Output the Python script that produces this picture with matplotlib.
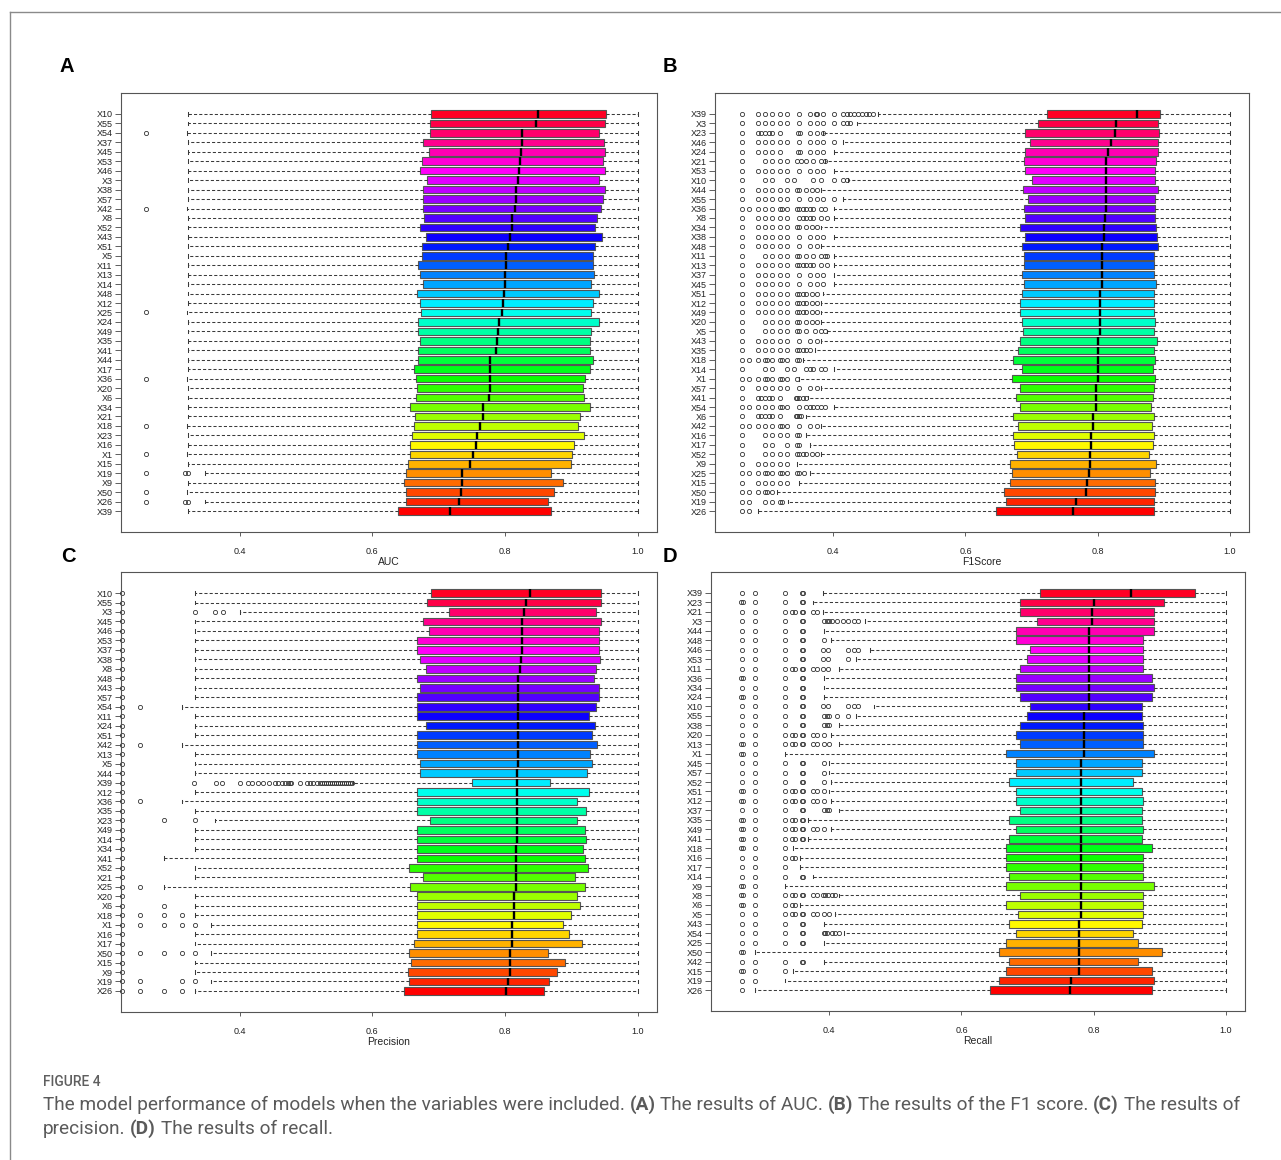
import colorsys
import matplotlib
matplotlib.use("Agg")
import matplotlib.pyplot as plt
from matplotlib.lines import Line2D

plt.rcParams['font.family'] = ['Liberation Sans', 'DejaVu Sans']

W, H = 1281, 1160
WHIS_HI = 1.0   # upper whisker reaches 1.0 in every panel

# ---------------- A : AUC ----------------
names_A = ["X10","X55","X54","X37","X45","X53","X46","X3","X38","X57","X42","X8","X52","X43","X51","X5","X11","X13","X14","X48","X12","X25",
           "X24","X49","X35","X41","X44","X17","X36","X20","X6","X34","X21","X18","X23","X16","X1","X15","X19","X9","X50","X26","X39"]
q1_A = [0.688,0.687,0.687,0.676,0.686,0.674,0.672,0.683,0.676,0.676,0.676,0.678,0.672,0.681,0.675,0.674,0.669,0.671,0.676,0.667,0.671,0.673,
        0.668,0.668,0.671,0.668,0.669,0.662,0.666,0.667,0.665,0.657,0.664,0.662,0.659,0.657,0.657,0.654,0.651,0.648,0.651,0.650,0.639]
med_A = [0.849,0.846,0.826,0.825,0.824,0.822,0.821,0.819,0.817,0.817,0.815,0.811,0.811,0.808,0.804,0.801,0.801,0.800,0.800,0.799,0.797,0.796,
         0.791,0.790,0.788,0.787,0.778,0.777,0.777,0.777,0.775,0.767,0.767,0.762,0.757,0.756,0.751,0.747,0.735,0.735,0.734,0.731,0.717]
q3_A = [0.952,0.951,0.942,0.949,0.951,0.947,0.950,0.942,0.950,0.947,0.944,0.938,0.936,0.946,0.935,0.933,0.933,0.934,0.930,0.942,0.932,0.930,
        0.942,0.929,0.928,0.928,0.933,0.928,0.920,0.918,0.919,0.928,0.913,0.910,0.919,0.904,0.901,0.899,0.869,0.888,0.873,0.865,0.869]
lo_A = [0.322,0.322,0.320,0.322,0.322,0.322,0.322,0.322,0.322,0.322,0.320,0.322,0.322,0.322,0.322,0.322,0.322,0.322,0.322,0.322,0.322,0.320,
        0.322,0.322,0.322,0.322,0.322,0.322,0.320,0.322,0.322,0.322,0.322,0.320,0.322,0.322,0.320,0.322,0.347,0.322,0.320,0.347,0.322]
fl_A = [[],[],[0.258],[],[],[],[],[],[],[],[0.258],[],[],[],[],[],[],[],[],[],[],[0.258],
        [],[],[],[],[],[],[0.258],[],[],[],[],[0.258],[],[],[0.258],[],[0.258,0.318,0.322],[],[0.258],[0.258,0.318,0.322],[]]

# ---------------- B : F1 score ----------------
names_B = ["X39","X3","X23","X46","X24","X21","X53","X10","X44","X55","X36","X8","X34","X38","X48","X11","X13","X37","X45","X51","X12","X49",
           "X20","X5","X43","X35","X18","X14","X1","X57","X41","X54","X6","X42","X16","X17","X52","X9","X25","X15","X50","X19","X26"]
q1_B = [0.723,0.709,0.690,0.697,0.690,0.688,0.690,0.700,0.687,0.694,0.688,0.690,0.683,0.690,0.686,0.688,0.688,0.686,0.688,0.685,0.683,0.683,
        0.686,0.687,0.683,0.680,0.672,0.686,0.671,0.683,0.676,0.683,0.672,0.679,0.672,0.673,0.678,0.667,0.671,0.667,0.658,0.661,0.646]
med_B = [0.860,0.827,0.826,0.820,0.816,0.813,0.813,0.813,0.813,0.813,0.813,0.811,0.810,0.810,0.807,0.807,0.806,0.806,0.806,0.803,0.803,0.803,
         0.803,0.803,0.800,0.800,0.800,0.800,0.800,0.797,0.797,0.797,0.793,0.793,0.790,0.790,0.788,0.788,0.787,0.784,0.782,0.767,0.762]
q3_B = [0.894,0.892,0.893,0.892,0.892,0.889,0.887,0.887,0.892,0.887,0.887,0.887,0.889,0.890,0.892,0.885,0.885,0.885,0.889,0.885,0.885,0.885,
        0.887,0.885,0.890,0.885,0.887,0.884,0.887,0.885,0.883,0.880,0.885,0.882,0.885,0.884,0.877,0.889,0.879,0.887,0.887,0.885,0.885]
lo_B = [0.467,0.436,0.384,0.415,0.401,0.388,0.401,0.423,0.382,0.415,0.401,0.401,0.382,0.401,0.382,0.401,0.401,0.401,0.401,0.384,0.382,0.382,
        0.382,0.390,0.382,0.372,0.354,0.401,0.348,0.382,0.362,0.401,0.358,0.382,0.358,0.364,0.382,0.345,0.364,0.348,0.315,0.331,0.286]
g1 = [0.262,0.286,0.297,0.308,0.319,0.330]
fl_B = [g1 + [0.348,0.364,0.374,0.376,0.384,0.401,0.415,0.421,0.426,0.432,0.437,0.443,0.449,0.454,0.460],
        g1 + [0.348,0.364,0.375,0.384,0.401,0.415,0.421,0.426],
        [0.262,0.286,0.291,0.297,0.302,0.308,0.319,0.346,0.350,0.364,0.375,0.384],
        g1 + [0.348,0.364,0.375,0.384,0.401],
        [0.262,0.286,0.297,0.308,0.319,0.346,0.350,0.364,0.375,0.384],
        [0.262,0.297,0.308,0.319,0.330,0.345,0.351,0.359,0.370,0.382,0.387],
        g1 + [0.348,0.364,0.375,0.384],
        [0.262,0.297,0.308,0.330,0.341,0.370,0.382,0.401,0.415,0.420],
        g1 + [0.345,0.348,0.359,0.368,0.376],
        g1 + [0.348,0.364,0.375,0.384,0.401],
        [0.262,0.273,0.286,0.297,0.308,0.319,0.323,0.330,0.345,0.348,0.354,0.359,0.365,0.370,0.382,0.387],
        g1 + [0.348,0.354,0.359,0.365,0.370,0.382,0.390],
        g1 + [0.345,0.348,0.359,0.368,0.376],
        g1 + [0.348,0.364,0.375,0.384],
        g1 + [0.348,0.364,0.375],
        [0.262,0.297,0.308,0.319,0.330,0.345,0.348,0.359,0.370,0.382,0.387,0.390],
        g1 + [0.345,0.348,0.354,0.359,0.365,0.370,0.382,0.390],
        g1 + [0.348,0.364,0.375,0.384],
        g1 + [0.348,0.364,0.375,0.384],
        g1 + [0.345,0.348,0.354,0.359,0.368,0.376],
        g1 + [0.345,0.348,0.354,0.359,0.368,0.376],
        g1 + [0.345,0.348,0.354,0.359,0.368,0.376],
        [0.262,0.297,0.308,0.319,0.330,0.345,0.348,0.359,0.368,0.376],
        [0.262,0.297,0.308,0.319,0.330,0.345,0.348,0.359,0.373,0.382,0.387],
        g1 + [0.348,0.364,0.375],
        g1 + [0.345,0.348,0.354,0.359,0.365],
        [0.262,0.273,0.286,0.297,0.299,0.308,0.319,0.323,0.330,0.345,0.348],
        [0.262,0.297,0.308,0.330,0.341,0.359,0.365,0.370,0.382,0.387],
        [0.262,0.273,0.286,0.297,0.299,0.308,0.319,0.323,0.330,0.345],
        g1 + [0.348,0.364,0.375],
        [0.262,0.286,0.291,0.297,0.302,0.308,0.319,0.343,0.345,0.348,0.354,0.359],
        [0.262,0.273,0.286,0.297,0.308,0.319,0.323,0.330,0.348,0.359,0.365,0.370,0.376,0.382,0.387],
        [0.262,0.286,0.291,0.297,0.302,0.308,0.319,0.343,0.345,0.348,0.351],
        [0.262,0.273,0.286,0.297,0.308,0.319,0.323,0.330,0.348,0.364,0.375],
        [0.262,0.297,0.308,0.319,0.330,0.345,0.348],
        [0.262,0.297,0.308,0.330,0.345,0.348],
        [0.262,0.297,0.308,0.319,0.330,0.345,0.348,0.354,0.359,0.368,0.376],
        g1,
        [0.262,0.273,0.286,0.297,0.299,0.308,0.319,0.323,0.330,0.345,0.348,0.356],
        g1,
        [0.262,0.273,0.286,0.297,0.299,0.308],
        [0.262,0.273,0.297,0.308,0.319,0.323],
        [0.262,0.273]]

# ---------------- C : Precision ----------------
names_C = ["X10","X55","X3","X45","X46","X53","X37","X38","X8","X48","X43","X57","X54","X11","X24","X51","X42","X13","X5","X44","X39","X12",
           "X36","X35","X23","X49","X14","X34","X41","X52","X21","X25","X20","X6","X18","X1","X16","X17","X50","X15","X9","X19","X26"]
q1_C = [0.688,0.683,0.715,0.676,0.686,0.667,0.667,0.671,0.681,0.667,0.671,0.667,0.667,0.667,0.681,0.667,0.667,0.667,0.671,0.672,0.750,0.667,
        0.667,0.667,0.687,0.667,0.667,0.667,0.667,0.655,0.676,0.657,0.667,0.667,0.667,0.667,0.667,0.662,0.655,0.658,0.653,0.655,0.647]
med_C = [0.838,0.832,0.828,0.826,0.826,0.826,0.825,0.824,0.822,0.820,0.820,0.820,0.820,0.820,0.820,0.819,0.819,0.819,0.819,0.818,0.818,0.818,
         0.818,0.818,0.818,0.818,0.818,0.816,0.816,0.816,0.816,0.816,0.813,0.813,0.813,0.811,0.810,0.810,0.807,0.807,0.807,0.805,0.802]
q3_C = [0.945,0.944,0.937,0.945,0.942,0.941,0.942,0.943,0.937,0.934,0.942,0.941,0.937,0.926,0.935,0.931,0.938,0.928,0.931,0.923,0.868,0.926,
        0.909,0.922,0.909,0.921,0.922,0.918,0.921,0.925,0.906,0.921,0.909,0.913,0.899,0.888,0.896,0.916,0.865,0.890,0.879,0.866,0.859]
lo_C = [0.333,0.333,0.400,0.333,0.333,0.333,0.333,0.333,0.333,0.333,0.333,0.333,0.313,0.333,0.333,0.333,0.313,0.333,0.333,0.333,0.571,0.333,
        0.313,0.333,0.363,0.333,0.333,0.333,0.286,0.333,0.333,0.286,0.333,0.333,0.333,0.356,0.333,0.333,0.356,0.333,0.333,0.356,0.333]
c0 = [0.223]
fl_C = [c0, c0, c0 + [0.333,0.363,0.375], c0, c0, c0, c0, c0, c0, c0, c0, c0, c0 + [0.250], c0, c0, c0, c0 + [0.250], c0, c0, c0,
        c0 + [0.331,0.364,0.374,0.400,0.413,0.418,0.428,0.435,0.444,0.453,0.458,0.463,0.468,0.473,0.476,0.478,0.491,0.501,0.506,0.511,
              0.516,0.521,0.524,0.527,0.530,0.533,0.536,0.539,0.542,0.545,0.548,0.551,0.554,0.557,0.560,0.563,0.566,0.569],
        c0,
        c0 + [0.250], c0, c0 + [0.286,0.333], c0, c0, c0, c0, c0, c0, c0 + [0.250], c0, c0 + [0.286], c0 + [0.250,0.286,0.313],
        c0 + [0.250,0.286,0.313,0.333], c0, c0, c0 + [0.250,0.286,0.313,0.333], c0, c0, c0 + [0.250,0.313,0.333], c0 + [0.250,0.286,0.313]]

# ---------------- D : Recall ----------------
names_D = ["X39","X23","X21","X3","X44","X48","X46","X53","X11","X36","X34","X24","X10","X55","X38","X20","X13","X1","X45","X57","X52","X51",
           "X12","X37","X35","X49","X41","X18","X16","X17","X14","X9","X8","X6","X5","X43","X54","X25","X50","X42","X15","X19","X26"]
q1_D = [0.719,0.688,0.688,0.715,0.683,0.683,0.704,0.699,0.688,0.683,0.683,0.688,0.704,0.699,0.688,0.683,0.688,0.667,0.683,0.683,0.672,0.683,
        0.683,0.688,0.672,0.683,0.672,0.667,0.667,0.667,0.672,0.667,0.688,0.667,0.686,0.672,0.683,0.667,0.657,0.672,0.667,0.657,0.643]
med_D = [0.856,0.800,0.798,0.798,0.793,0.793,0.793,0.793,0.793,0.793,0.793,0.793,0.793,0.785,0.785,0.785,0.785,0.785,0.781,0.781,0.781,0.781,
         0.781,0.781,0.781,0.781,0.781,0.781,0.781,0.781,0.781,0.781,0.781,0.781,0.781,0.778,0.778,0.778,0.778,0.778,0.778,0.766,0.764]
q3_D = [0.953,0.906,0.891,0.891,0.891,0.875,0.875,0.875,0.875,0.889,0.891,0.889,0.873,0.873,0.875,0.875,0.875,0.891,0.873,0.873,0.860,0.873,
        0.875,0.873,0.873,0.875,0.873,0.889,0.875,0.875,0.875,0.891,0.875,0.875,0.875,0.873,0.860,0.867,0.904,0.867,0.889,0.891,0.889]
lo_D = [0.390,0.376,0.391,0.454,0.392,0.402,0.461,0.440,0.415,0.392,0.392,0.392,0.468,0.440,0.414,0.402,0.415,0.333,0.399,0.399,0.402,0.399,
        0.402,0.414,0.368,0.402,0.368,0.345,0.356,0.356,0.376,0.333,0.415,0.356,0.408,0.392,0.423,0.392,0.287,0.392,0.345,0.333,0.287]
d1 = [0.268,0.287,0.333,0.358,0.360]
d2 = [0.267,0.269,0.287,0.333,0.343,0.348,0.358,0.360]
fl_D = [d1, [0.267,0.269,0.287,0.333,0.358,0.360], d1 + [0.343,0.348,0.376,0.382],
        d1 + [0.392,0.396,0.399,0.404,0.412,0.421,0.429,0.437,0.443], d1, d1 + [0.392], d1 + [0.390,0.398,0.429,0.437,0.443],
        d1 + [0.390,0.398,0.429], d1 + [0.343,0.348,0.376,0.382,0.390,0.398], [0.267,0.269,0.287,0.333,0.358,0.360], d1,
        [0.267,0.269,0.287,0.333,0.358,0.360], d1 + [0.390,0.398,0.429,0.437,0.443], d1 + [0.392,0.396,0.399,0.412,0.429],
        d1 + [0.392,0.397,0.399], d1 + [0.343,0.348,0.376,0.382,0.392], d2 + [0.376,0.382,0.392,0.399], [0.267,0.269,0.287],
        d1 + [0.392], d1 + [0.392], d1 + [0.392], d2 + [0.376,0.382,0.392],
        d2 + [0.376,0.382,0.392], d1 + [0.392,0.397,0.399], d2, d2 + [0.376,0.382,0.392], d2, [0.267,0.269,0.287,0.333],
        [0.268,0.287,0.333,0.343,0.348], [0.268,0.287,0.333], d1, [0.267,0.269,0.287],
        d2 + [0.376,0.382,0.390,0.393,0.398,0.404,0.409], [0.267,0.269,0.287,0.333,0.343,0.348],
        d1 + [0.343,0.348,0.376,0.382,0.392,0.399], d1, d1 + [0.392,0.394,0.397,0.404,0.409,0.415], d1, [0.267,0.269], d1,
        [0.267,0.269,0.287,0.333], [0.268,0.287], [0.268]]


def px_rect(left, top, right, bottom):
    return [left / W, 1 - bottom / H, (right - left) / W, (bottom - top) / H]


def draw_panel(rect, names, q1, med, q3, lo, fl, xlabel):
    ax = fig.add_axes(rect)
    n = len(names)
    stats = []
    for i in range(n):
        stats.append(dict(med=med[i], q1=q1[i], q3=q3[i], whislo=lo[i], whishi=WHIS_HI,
                          fliers=fl[i], label=names[i]))
    pos = [n - i for i in range(n)]
    bp = ax.bxp(stats, positions=pos, orientation='horizontal', widths=0.8, capwidths=0.4,
                patch_artist=True,
                boxprops=dict(edgecolor='#555555', linewidth=0.8),
                whiskerprops=dict(color='#3a3a3a', linewidth=0.75, linestyle=(0, (3, 2))),
                capprops=dict(color='#3a3a3a', linewidth=0.75),
                medianprops=dict(color='black', linewidth=1.7),
                flierprops=dict(marker='o', markersize=3, markerfacecolor='none',
                                markeredgecolor='#333333', markeredgewidth=0.6, linestyle='none',
                                clip_on=False))
    for i, patch in enumerate(bp['boxes']):
        patch.set_facecolor(colorsys.hsv_to_rgb((n - 1 - i) / n, 1, 1))
    ax.set_xlim(0.221, 1.029)
    ax.set_ylim(0.5 - 0.04 * n, n + 0.5 + 0.04 * n)
    ax.set_yticks(pos)
    ax.set_yticklabels(names, fontsize=6.5, color='#222222')
    ax.set_xticks([0.4, 0.6, 0.8, 1.0])
    ax.set_xticklabels(["0.4", "0.6", "0.8", "1.0"], fontsize=6.5, color='#222222')
    ax.tick_params(axis='y', length=4, width=0.6, pad=2, color='#444444')
    ax.tick_params(axis='x', length=3, width=0.6, pad=8, color='#444444')
    for s in ax.spines.values():
        s.set_linewidth(0.8)
        s.set_color('#555555')
    ax.set_xlabel(xlabel, fontsize=7.5, color='#222222')
    ax.xaxis.set_label_coords(0.5, -0.056)
    return ax


fig = plt.figure(figsize=(W / 100, H / 100), dpi=100)

draw_panel(px_rect(121, 93, 657, 532), names_A, q1_A, med_A, q3_A, lo_A, fl_A, "AUC")
draw_panel(px_rect(715, 93, 1249, 532), names_B, q1_B, med_B, q3_B, lo_B, fl_B, "F1Score")
draw_panel(px_rect(121, 572, 657, 1012), names_C, q1_C, med_C, q3_C, lo_C, fl_C, "Precision")
draw_panel(px_rect(711, 572, 1245, 1011), names_D, q1_D, med_D, q3_D, lo_D, fl_D, "Recall")

for letter, x, y in [("A", 67, 67), ("B", 670, 67), ("C", 68, 556), ("D", 670, 556)]:
    fig.text(x / W, 1 - y / H, letter, ha='center', va='center', fontsize=14.5, weight='bold')

# outer frame of the figure card
fig.add_artist(Line2D([10 / W, 10 / W], [0, 1 - 12 / H], color='#8a8a8a', lw=1))
fig.add_artist(Line2D([10 / W, 1], [1 - 12 / H, 1 - 12 / H], color='#8a8a8a', lw=1))

fig.text(43 / W, 1 - 1082 / H, "FIGURE 4", fontsize=10, color='#5f5f5f', va='center', weight='medium',
         family=['Roboto', 'DejaVu Sans'])

renderer = fig.canvas.get_renderer()


def caption_line(parts, x_px, y_px, size):
    sp = fig.text(0, 0, "x x", fontsize=size, family=['Roboto', 'DejaVu Sans'])
    sp2 = fig.text(0, 0, "xx", fontsize=size, family=['Roboto', 'DejaVu Sans'])
    gap = sp.get_window_extent(renderer).width - sp2.get_window_extent(renderer).width
    sp.remove()
    sp2.remove()
    x = x_px
    for txt, bold in parts:
        t = fig.text(x / W, 1 - y_px / H, txt, fontsize=size, color='#5a5a5a', va='center',
                     weight='bold' if bold else 'normal', family=['Roboto', 'DejaVu Sans'])
        x += t.get_window_extent(renderer).width + gap


caption_line([("The model performance of models when the variables were included.", False), ("(A)", True),
              ("The results of AUC.", False), ("(B)", True), ("The results of the F1 score.", False),
              ("(C)", True), ("The results of", False)], 43, 1105, 13.7)
caption_line([("precision.", False), ("(D)", True), ("The results of recall.", False)], 43, 1129, 13.7)

fig.savefig("out.png", dpi=100)
